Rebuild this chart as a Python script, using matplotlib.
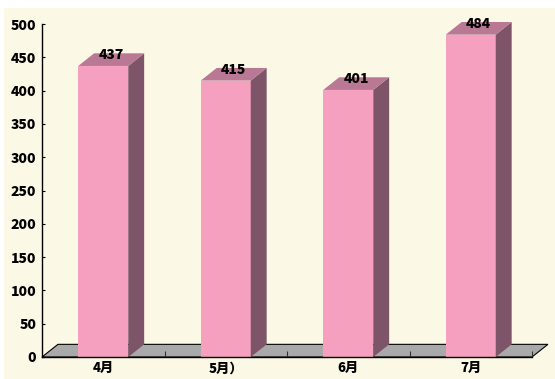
import numpy as np
import matplotlib
matplotlib.use("Agg")
import matplotlib.pyplot as plt
from matplotlib.patches import Polygon, Rectangle

plt.rcParams['font.family'] = ['Noto Sans CJK JP', 'DejaVu Sans']

months = ['4月', '5月）', '6月', '7月']
values = [437, 415, 401, 484]
yticks = list(range(0, 501, 50))

front_col = '#F4A0BE'
side_col = '#7E5468'
top_col = '#B97894'
floor_col = '#A9A9A9'
bg_col = '#FCF8E6'

fig = plt.figure(figsize=(5.55, 3.79), dpi=100)
fig.patch.set_facecolor('white')
fig.patches.append(Rectangle((4 / 555, 0), 1, (379 - 8) / 379, transform=fig.transFigure,
                             facecolor=bg_col, edgecolor='none', zorder=-10))

ax = fig.add_axes([42 / 555, 22 / 379, 490 / 555, 333 / 379])
ax.set_facecolor('none')
ax.set_xlim(-0.5, 3.5)
ax.set_ylim(0, 500)

w = 0.408   # bar front width in category units
dx = 0.13   # depth offset (x)
dy = 19     # depth offset (y, data units)

# floor
ax.add_patch(Polygon([(-0.5, 0), (3.5, 0), (3.5 + dx, dy), (-0.5 + dx, dy)], closed=True,
                     facecolor=floor_col, edgecolor='black', lw=0.8, zorder=1, clip_on=False))

x = np.arange(len(months))
ax.bar(x, values, width=w, color=front_col, zorder=3)
for i, v in zip(x, values):
    l, r = i - w / 2, i + w / 2
    ax.add_patch(Polygon([(r, 0), (r + dx, dy), (r + dx, v + dy), (r, v)], closed=True,
                         facecolor=side_col, edgecolor='none', zorder=3, clip_on=False))
    ax.add_patch(Polygon([(l, v), (r, v), (r + dx, v + dy), (l + dx, v + dy)], closed=True,
                         facecolor=top_col, edgecolor='none', zorder=3, clip_on=False))
    ax.text(i + dx / 2, v + 16.5, str(v), ha='center', va='center', fontsize=10,
            fontweight='heavy', color='black', zorder=5, clip_on=False)

for s in ['top', 'right']:
    ax.spines[s].set_visible(False)
for s in ['left', 'bottom']:
    ax.spines[s].set_color('black')
    ax.spines[s].set_linewidth(1.0)
    ax.spines[s].set_zorder(4)

ax.set_yticks(yticks)
ax.set_yticklabels([str(t) for t in yticks], fontsize=10, fontweight='heavy')
ax.tick_params(axis='y', direction='in', length=2.5, width=0.8, pad=4)

ax.set_xticks(x)
ax.set_xticklabels(months, fontsize=9.5, fontweight='heavy')
ax.tick_params(axis='x', which='major', length=0, pad=3)
ax.set_xticks([0.5, 1.5, 2.5, 3.5], minor=True)
ax.tick_params(axis='x', which='minor', direction='in', length=4, width=0.8, color='#333333')

fig.savefig('out.png', dpi=100)
